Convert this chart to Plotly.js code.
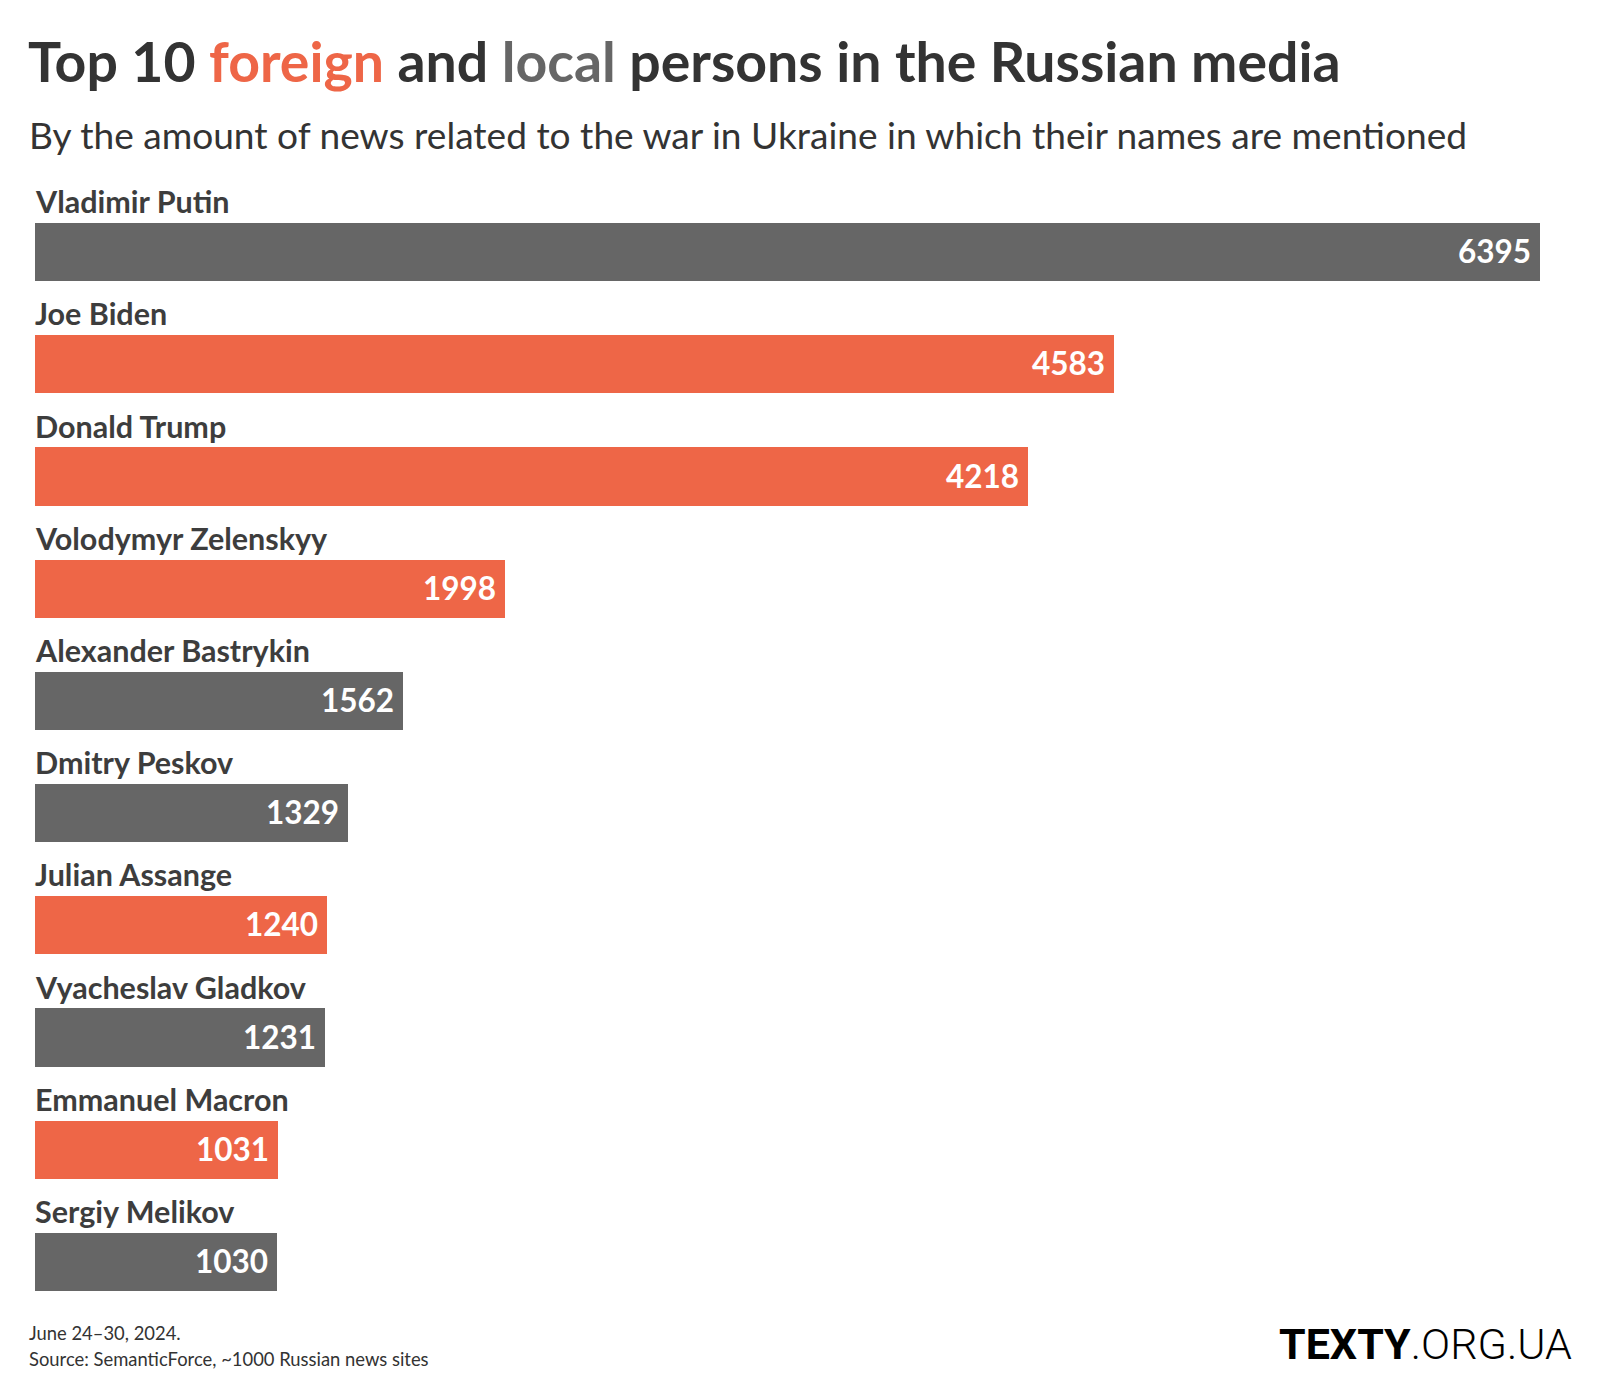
<!DOCTYPE html>
<html>
<head>
<meta charset="utf-8">
<script src="https://cdn.plot.ly/plotly-3.0.1.min.js"></script>
<style>
  html, body { margin: 0; padding: 0; background: #ffffff; }
  #chart { width: 1600px; height: 1400px; }
</style>
</head>
<body>
<div id="chart"></div>
<script>
// ---- Data ----
const names = [
  "Vladimir Putin",
  "Joe Biden",
  "Donald Trump",
  "Volodymyr Zelenskyy",
  "Alexander Bastrykin",
  "Dmitry Peskov",
  "Julian Assange",
  "Vyacheslav Gladkov",
  "Emmanuel Macron",
  "Sergiy Melikov"
];
const mentions = [6395, 4583, 4218, 1998, 1562, 1329, 1240, 1231, 1031, 1030];
const groups = ["local", "foreign", "foreign", "foreign", "local", "local", "foreign", "local", "foreign", "local"];

const titleText = 'Top 10 <span style="color:#EE6647">foreign</span> and <span style="color:#666666">local</span> persons in the Russian media';
const subtitleText = "By the amount of news related to the war in Ukraine in which their names are mentioned";
const footerDate = "June 24–30, 2024.";
const footerSource = "Source: SemanticForce, ~1000 Russian news sites";
const logoText = "<b>TEXTY</b>.ORG.UA";

// ---- Styles ----
const groupColors = { foreign: "#EE6647", local: "#666666" };
const FONT = "Lato, 'Open Sans', sans-serif";

const W = 1600, H = 1400;
const margin = { l: 35, r: 60, t: 196, b: 82, pad: 0 };
const plotW = W - margin.l - margin.r;
const plotH = H - margin.t - margin.b;
// pixel -> paper coordinate helpers (for page furniture only)
const px2x = px => (px - margin.l) / plotW;
const py2y = py => (H - margin.b - py) / plotH;

const trace = {
  type: "bar",
  orientation: "h",
  y: names,
  x: mentions,
  width: 0.52,
  marker: { color: groups.map(g => groupColors[g]), line: { width: 0 } },
  hoverinfo: "skip"
};

const annotations = [];
names.forEach((n, i) => {
  annotations.push({
    x: 0, y: n, xref: "x", yref: "y",
    xanchor: "left", yanchor: "middle", xshift: -2, yshift: 51,
    text: n, showarrow: false,
    font: { family: FONT, size: 30.5, color: "#3d3d3d", weight: 700 }
  });
  annotations.push({
    x: mentions[i], y: n, xref: "x", yref: "y",
    xanchor: "right", yanchor: "middle", xshift: -7, yshift: 1,
    text: String(mentions[i]), showarrow: false,
    font: { family: FONT, size: 31.5, color: "#ffffff", weight: 700 }
  });
});

annotations.push({
  x: px2x(27), y: py2y(134), xref: "paper", yref: "paper",
  xanchor: "left", yanchor: "middle", showarrow: false,
  text: subtitleText,
  font: { family: FONT, size: 37.1, color: "#333333" }
});
annotations.push({
  x: px2x(27), y: py2y(1333), xref: "paper", yref: "paper",
  xanchor: "left", yanchor: "middle", showarrow: false,
  text: footerDate,
  font: { family: FONT, size: 18.4, color: "#333333" }
});
annotations.push({
  x: px2x(27), y: py2y(1359), xref: "paper", yref: "paper",
  xanchor: "left", yanchor: "middle", showarrow: false,
  text: footerSource,
  font: { family: FONT, size: 18.4, color: "#333333" }
});
annotations.push({
  x: px2x(1574), y: py2y(1344), xref: "paper", yref: "paper",
  xanchor: "right", yanchor: "middle", showarrow: false,
  text: logoText,
  font: { family: "Roboto, Inter, sans-serif", size: 43, color: "#000000", weight: 300 }
});

const layout = {
  width: W, height: H,
  margin: margin,
  paper_bgcolor: "#ffffff",
  plot_bgcolor: "#ffffff",
  showlegend: false,
  title: {
    text: titleText,
    xref: "container", yref: "container",
    x: 28 / W, xanchor: "left",
    y: 1 - 63 / H, yanchor: "middle",
    font: { family: FONT, size: 55.4, color: "#333333", weight: 700 }
  },
  xaxis: {
    range: [0, Math.max(...mentions)],
    visible: false, showgrid: false, zeroline: false, fixedrange: true
  },
  yaxis: {
    type: "category",
    range: [names.length - 0.5, -0.5],
    autorange: false,
    showticklabels: false, showgrid: false, zeroline: false, showline: false,
    ticks: "", fixedrange: true
  },
  annotations: annotations,
  bargap: 0
};

Plotly.newPlot("chart", [trace], layout, { staticPlot: true, displayModeBar: false });
</script>
</body>
</html>
